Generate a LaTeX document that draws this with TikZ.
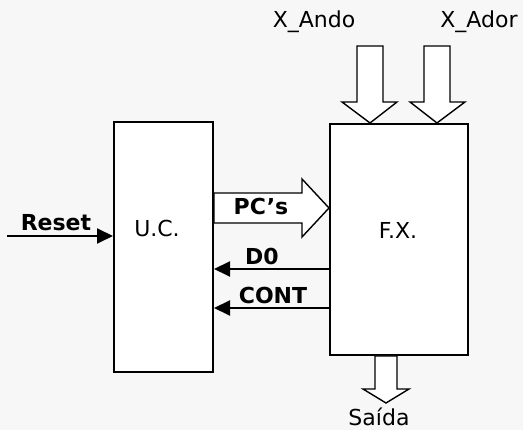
\documentclass[tikz,border=0pt]{standalone}
\usepackage{fontspec}
\setmainfont{DejaVu Sans}
\usetikzlibrary{arrows.meta, positioning, calc}

\begin{document}
\begin{tikzpicture}[x=1pt, y=-1pt,
    unit/.style={rectangle, draw, line width=2pt, fill=white, inner sep=0pt},
    txt/.style={font=\fontsize{22}{26}\selectfont, inner sep=0pt},
    boldtxt/.style={font=\fontsize{22}{26}\selectfont\bfseries, inner sep=0pt},
    signal/.style={-{Triangle[length=16pt,width=15pt]}, line width=2pt},
    bus/.style={draw, line width=1.4pt, fill=white, line join=miter}
]
    \useasboundingbox[fill=black!3] (0,0) rectangle (523,430);

    % Units
    \node[unit, minimum width=99pt, minimum height=250pt] (uc) at (163.5,247) {};
    \node[unit, minimum width=138pt, minimum height=231pt] (fx) at (399,239.5) {};
    \node[txt] (uctxt) at (157,228) {U.C.};
    \node[txt] (fxtxt) at (398,230) {F.X.};

    % Inputs and output labels
    \node[txt] (ando) at (314,22) {X\_Ando};
    \node[txt] (ador) at (479,22) {X\_Ador};
    \node[txt] (saida) at (379,417) {Saída};

    % Reset
    \coordinate (rst) at (7,236);
    \draw[signal] (rst) -- (uc.west |- rst);
    \node[boldtxt] (rsttxt) at (56,223) {Reset};

    % PC's bus
    \draw[bus] (uc.east |- 0,193) -- (302,193) -- (302,179) -- (fx.west |- 0,208)
        -- (302,237) -- (302,223) -- (uc.east |- 0,223) -- cycle;
    \node[boldtxt] (pctxt) at (261,206) {PC’s};

    % Status signals
    \coordinate (d0) at (fx.west |- 0,269);
    \coordinate (cont) at (fx.west |- 0,308);
    \draw[signal] (d0) -- (uc.east |- d0);
    \draw[signal] (cont) -- (uc.east |- cont);
    \node[boldtxt] (d0txt) at (262,256) {D0};
    \node[boldtxt] (conttxt) at (273,295) {CONT};

    % Data buses
    \draw[bus] (357,46) -- (383,46) -- (383,102) -- (397,102) -- (fx.north -| 370,0)
        -- (342,102) -- (357,102) -- cycle;
    \draw[bus] (424,46) -- (450,46) -- (450,102) -- (465,102) -- (fx.north -| 437,0)
        -- (410,102) -- (424,102) -- cycle;
    \draw[bus] (fx.south -| 375,0) -- (fx.south -| 397,0) -- (397,389) -- (409,389)
        -- (386,403) -- (363,389) -- (375,389) -- cycle;
\end{tikzpicture}
\end{document}
